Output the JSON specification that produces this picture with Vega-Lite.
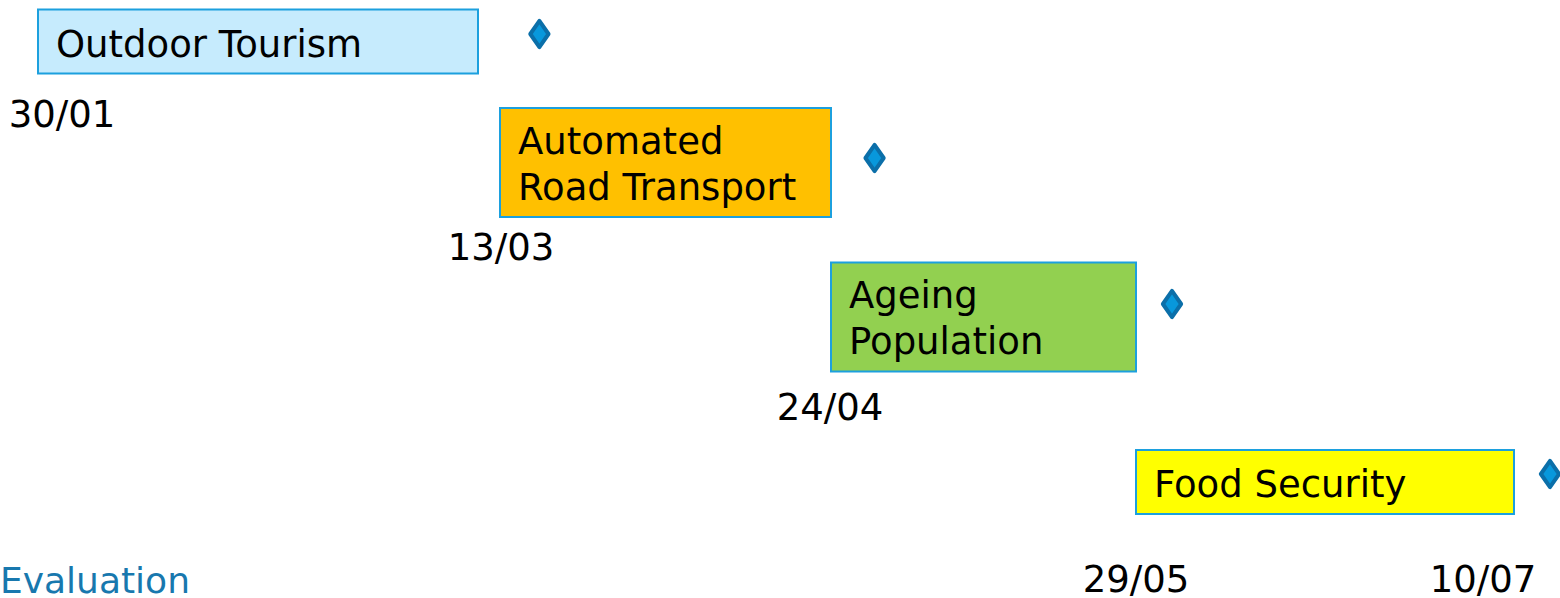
{
  "$schema": "https://vega.github.io/schema/vega-lite/v6.json",
  "width": 1560,
  "height": 598,
  "padding": 0,
  "autosize": "none",
  "background": "white",
  "config": {"view": {"stroke": null}},
  "title": {
    "text": "Evaluation",
    "orient": "bottom",
    "anchor": "start",
    "frame": "group",
    "color": "#1878ae",
    "font": "DejaVu Sans",
    "fontSize": 36,
    "fontWeight": "normal",
    "baseline": "alphabetic",
    "offset": -6
  },
  "datasets": {
    "tasks": [
      {"task": "Outdoor Tourism", "label": "Outdoor Tourism", "row": 1, "lines": 1, "start": 30, "end": 70, "evaluation": 77},
      {"task": "Automated Road Transport", "label": "Automated\nRoad Transport", "row": 2, "lines": 2, "start": 72, "end": 114, "evaluation": 119},
      {"task": "Ageing Population", "label": "Ageing\nPopulation", "row": 3, "lines": 2, "start": 114, "end": 149, "evaluation": 153},
      {"task": "Food Security", "label": "Food Security", "row": 4, "lines": 1, "start": 149, "end": 191, "evaluation": 195}
    ],
    "dates": [
      {"day": 30, "date": "30/01", "row": 1},
      {"day": 72, "date": "13/03", "row": 2},
      {"day": 114, "date": "24/04", "row": 3},
      {"day": 149, "date": "29/05", "row": 4},
      {"day": 191, "date": "10/07", "row": 4}
    ]
  },
  "layer": [
    {
      "data": {"name": "tasks"},
      "encoding": {
        "x": {"field": "start", "type": "quantitative", "axis": null,
              "scale": {"domain": [30, 72, 114, 149, 191], "range": [38, 500, 831, 1136, 1514], "nice": false, "zero": false, "padding": 0}},
        "y": {"field": "row", "type": "quantitative", "axis": null,
              "scale": {"domain": [1, 2, 3, 4], "range": [41.5, 162.5, 317, 482], "nice": false, "zero": false, "padding": 0}}
      },
      "layer": [
        {
          "mark": {"type": "bar", "orient": "horizontal", "stroke": "#1ca0de", "strokeWidth": 2},
          "encoding": {
            "x2": {"field": "end"},
            "size": {"field": "lines", "type": "quantitative", "legend": null,
                     "scale": {"domain": [1, 2], "range": [64, 109], "zero": false}},
            "color": {"field": "task", "type": "nominal", "legend": null,
                      "scale": {"domain": ["Outdoor Tourism", "Automated Road Transport", "Ageing Population", "Food Security"],
                                "range": ["#c6ebfd", "#ffc000", "#92d050", "#ffff00"]}}
          }
        },
        {
          "transform": [{"filter": {"field": "lines", "equal": 1}}],
          "mark": {"type": "text", "align": "left", "baseline": "alphabetic", "dx": 18, "dy": 15, "font": "DejaVu Sans", "fontSize": 37, "color": "#000000"},
          "encoding": {
            "text": {"field": "label", "type": "nominal"}
          }
        },
        {
          "transform": [{"filter": {"field": "lines", "equal": 2}}],
          "mark": {"type": "text", "align": "left", "baseline": "alphabetic", "dx": 18, "dy": -9, "font": "DejaVu Sans", "fontSize": 37, "lineBreak": "\n", "lineHeight": 46, "color": "#000000"},
          "encoding": {
            "text": {"field": "label", "type": "nominal"}
          }
        }
      ]
    },
    {
      "data": {"name": "tasks"},
      "mark": {"type": "point", "shape": "M0,-1L0.7,0L0,1L-0.7,0Z", "filled": true, "fill": "#0898dc", "stroke": "#0b6fa9", "strokeWidth": 4, "strokeJoin": "round", "opacity": 1},
      "encoding": {
        "x": {"field": "evaluation", "type": "quantitative", "axis": null,
              "scale": {"domain": [30, 72, 114, 149, 191], "range": [38, 500, 831, 1136, 1514], "nice": false, "zero": false}},
        "y": {"field": "row", "type": "quantitative", "axis": null,
              "scale": {"domain": [1, 2, 3, 4], "range": [34, 158, 304, 474], "nice": false, "zero": false}},
        "size": {"value": 680}
      }
    },
    {
      "data": {"name": "dates"},
      "mark": {"type": "text", "align": "center", "baseline": "alphabetic", "font": "DejaVu Sans", "fontSize": 37, "color": "#000000"},
      "encoding": {
        "x": {"field": "day", "type": "quantitative", "axis": null,
              "scale": {"domain": [30, 72, 114, 149, 191], "range": [62, 501, 830, 1136, 1483], "nice": false, "zero": false}},
        "y": {"field": "row", "type": "quantitative", "axis": null,
              "scale": {"domain": [1, 2, 3, 4], "range": [127, 260, 420, 592], "nice": false, "zero": false}},
        "text": {"field": "date", "type": "nominal"}
      }
    }
  ],
  "resolve": {"scale": {"x": "independent", "y": "independent", "size": "independent"}}
}
